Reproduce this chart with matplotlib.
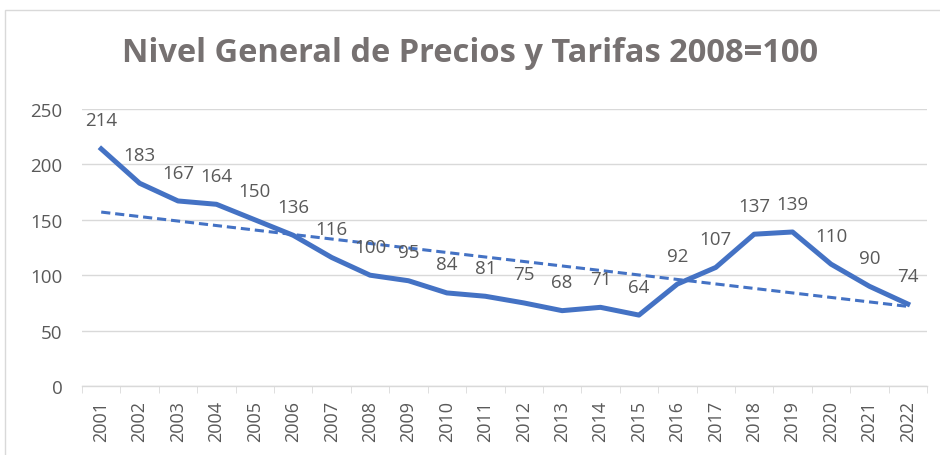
import matplotlib
matplotlib.use("Agg")
import matplotlib.pyplot as plt
import numpy as np
from matplotlib.patches import Rectangle

years = [str(y) for y in range(2001, 2023)]
values = [214, 183, 167, 164, 150, 136, 116, 100, 95, 84, 81, 75, 68, 71, 64, 92, 107, 137, 139, 110, 90, 74]
title = "Nivel General de Precios y Tarifas 2008=100"

plt.rcParams['font.family'] = ['Open Sans', 'DejaVu Sans']
blue = "#4472C4"
txt = "#595959"

fig = plt.figure(figsize=(9.4, 4.56), dpi=100)
fig.patches.append(Rectangle((5/940, -0.1), 1.2, 1 - 11/456 + 0.1, transform=fig.transFigure,
                             fill=False, edgecolor="#D9D9D9", linewidth=1))
ax = fig.add_axes([82/940, 1 - 387/456, (927-82)/940, (387-110)/456])

x = np.arange(1, len(values) + 1)
ax.plot(x, values, color=blue, linewidth=3.6, solid_joinstyle='round', zorder=3)
coef = np.polyfit(x, values, 1)
ax.plot(x, np.polyval(coef, x), color=blue, linewidth=2.2, linestyle=(0, (3, 1.6)), zorder=2)

for xi, v in zip(x, values):
    ax.annotate(str(v), (xi, v), xytext=(0, 14), textcoords='offset points',
                ha='center', va='bottom', fontsize=13.5, color=txt, zorder=4)

ax.set_xlim(0.5, len(values) + 0.5)
ax.set_ylim(0, 250)
ax.set_yticks(range(0, 251, 50))
ax.yaxis.grid(True, color="#D9D9D9", linewidth=1)
ax.set_axisbelow(True)
ax.set_xticks(x)
ax.set_xticklabels(years, rotation=90, fontsize=13, color=txt)
ax.set_xticks(np.arange(0.5, len(values) + 1, 1), minor=True)
ax.tick_params(axis='x', which='major', length=0, pad=10)
ax.tick_params(axis='x', which='minor', length=5, color="#D9D9D9")
ax.tick_params(axis='y', length=0, labelsize=13.5, labelcolor=txt, pad=14)
for s in ['top', 'right', 'left']:
    ax.spines[s].set_visible(False)
ax.spines['bottom'].set_color("#D9D9D9")
ax.spines['bottom'].set_linewidth(1)

fig.text(0.5, 1 - 53/456, title, ha='center', va='center', fontsize=23.5,
         fontweight='bold', color="#767171")

fig.savefig("out.png", dpi=100)
